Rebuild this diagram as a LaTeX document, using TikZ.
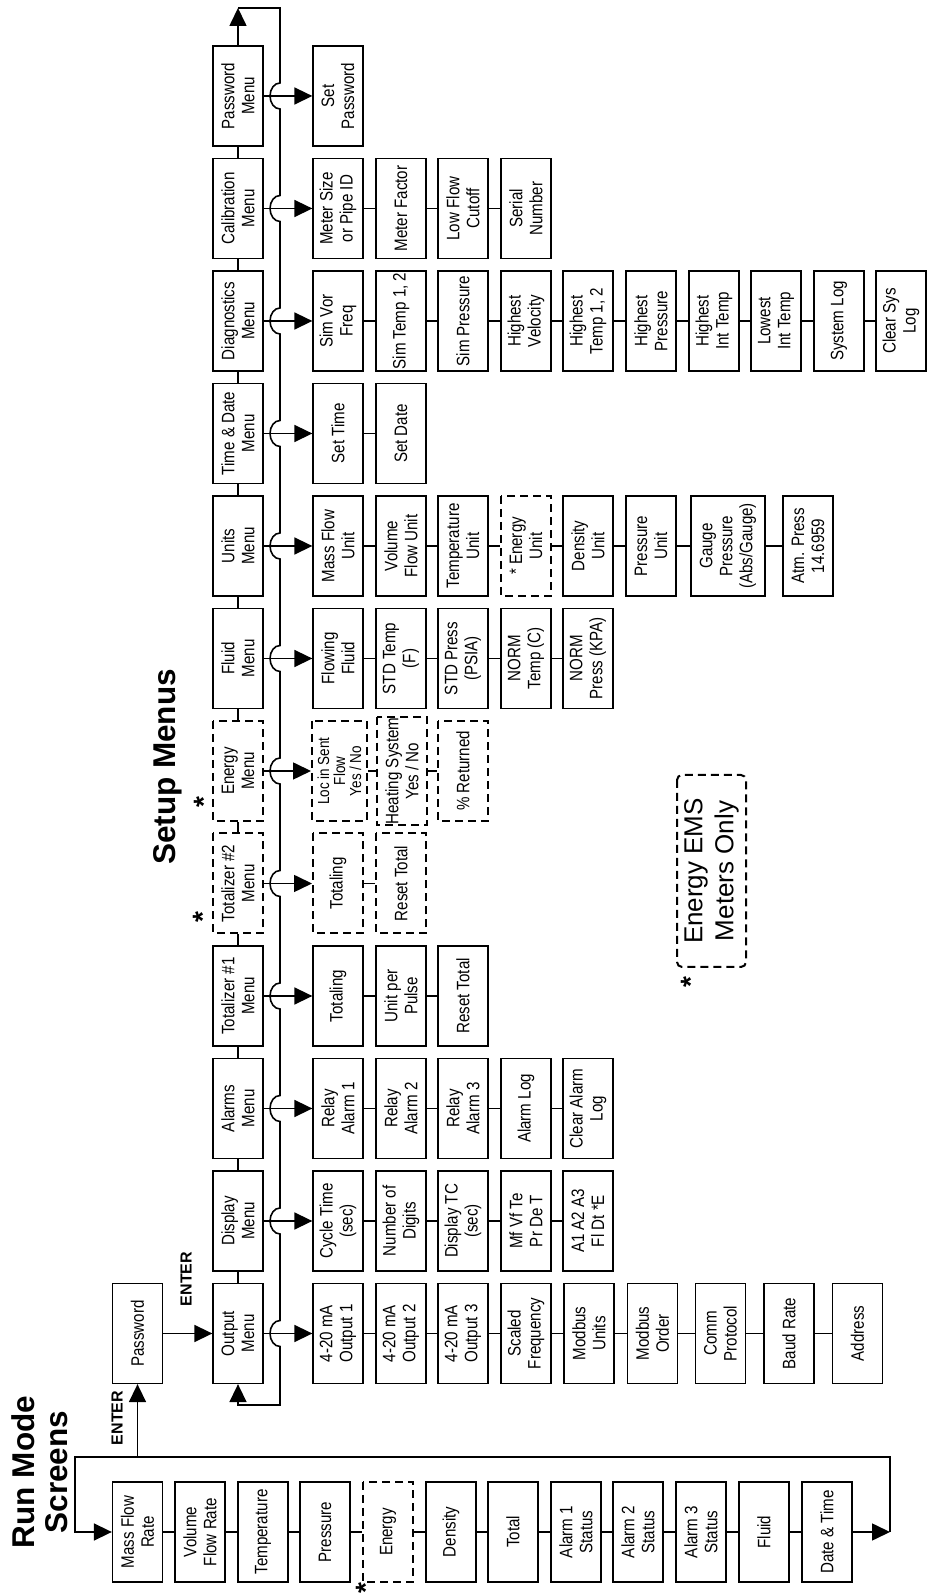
\documentclass[tikz,border=0pt]{standalone}
\usepackage{fontspec}
\setmainfont{Liberation Sans}
\newfontfamily\boxfont{Liberation Sans}[FakeStretch=0.84]
\usetikzlibrary{arrows.meta}
\tikzset{
  menu-box/.style={draw=black, line width=1.3pt, minimum width=100pt, minimum height=50pt,
    inner sep=1pt, align=center, font=\boxfont\fontsize{18}{20}\selectfont},
  option-box/.style={menu-box, line width=2pt, dash pattern=on 8pt off 5pt},
  link/.style={line width=1.3pt},
  flow/.style={line width=1.6pt, -{Triangle[length=18pt, width=17pt]}},
  title-text/.style={font=\bfseries\fontsize{31.5}{33}\selectfont, align=center, inner sep=0pt},
  enter-text/.style={font=\bfseries\fontsize{16}{18}\selectfont, inner sep=0pt},
  asterisk-mark/.style={font=\bfseries\fontsize{28}{28}\selectfont, inner sep=0pt}
}

\begin{document}
\begin{tikzpicture}[x=1pt, y=1pt]
  \useasboundingbox (0,0) rectangle (930,1593);
  \begin{scope}[rotate=90, transform shape]
  % run mode screens
  \node[title-text] (runtitle) at (121,-40) {Run Mode\\Screens};
  \foreach \name/\y/\txt in {run1/-137.5/{Mass Flow\\Rate}, run2/-200/{Volume\\Flow Rate}, run3/-263/{Temperature}, run4/-325/{Pressure},
      run6/-451/{Density}, run7/-513/{Total}, run8/-576/{Alarm 1\\Status}, run9/-638/{Alarm 2\\Status},
      run10/-701/{Alarm 3\\Status}, run11/-764/{Fluid}, run12/-827/{Date \& Time}} {
    \node[menu-box] (\name) at (61,\y) {\txt};
  }
  \node[option-box] (run5) at (61,-388) {Energy};
  \node[asterisk-mark] (runstar) at (5,-366) {*};
  \foreach \k [remember=\k as \prev (initially 1)] in {2,...,12}
    \draw[link] (run\prev) -- (run\k);
  \coordinate (runturn) at (61,-890);
  \coordinate (runcorner) at (136,-890);
  \coordinate (runtop) at (136,-75);
  \coordinate (passtap) at (136,-137.5);
  \draw[flow] (run12) -- (runturn);
  \draw[flow] (runturn) -- (runcorner) -- (runtop) -| (run1);
  \node[menu-box] (pass) at (259.5,-137.5) {Password};
  \draw[flow] (passtap) -- (pass);
  \node[enter-text] (enter1) at (175,-117) {ENTER};

  % setup menus
  \node[title-text] (setuptitle) at (826,-168) {Setup Menus};
  \foreach \name/\x/\txt in {outm/259.5/{Output\\Menu}, dispm/372/{Display\\Menu}, alarmm/484.5/{Alarms\\Menu},
      totam/597/{Totalizer \#1\\Menu}, fluidm/934.5/{Fluid\\Menu}, unitm/1047/{Units\\Menu},
      timem/1159.5/{Time \& Date\\Menu}, diagm/1272/{Diagnostics\\Menu}, calm/1384.5/{Calibration\\Menu},
      passm/1497/{Password\\Menu}} {
    \node[menu-box] (\name) at (\x,-238) {\txt};
  }
  \node[option-box] (totbm) at (709.5,-238) {Totalizer \#2\\Menu};
  \node[option-box] (enrm) at (822,-238) {Energy\\Menu};
  \node[asterisk-mark] (totbstar) at (676,-203) {*};
  \node[asterisk-mark] (enrstar) at (791,-204) {*};
  \foreach \a/\b in {outm/dispm, dispm/alarmm, alarmm/totam, totam/totbm, totbm/enrm, enrm/fluidm,
      fluidm/unitm, unitm/timem, timem/diagm, diagm/calm, calm/passm}
    \draw[link] (\a) -- (\b);
  \draw[flow] (pass) -- (outm);
  \node[enter-text] (enter2) at (314,-186) {ENTER};

  % return line with hops
  \coordinate (busturn) at (1585,-238);
  \coordinate (busfoot) at (188,-280);
  \draw[flow] (passm) -- (busturn);
  \draw[flow] (busturn) -- ++(0,-42)
    \foreach \x in {1497,1384.5,1272,1159.5,1047,934.5,822,709.5,597,484.5,372,259.5} {
      -- (\x+13,-280) arc[start angle=0, end angle=180, x radius=13, y radius=10]
    } -- (busfoot) |- (outm.west);

  % output menu
  \foreach \name/\y/\txt in {out1/-338/{4-20 mA\\Output 1}, out2/-401/{4-20 mA\\Output 2}, out3/-463/{4-20 mA\\Output 3},
      out4/-526/{Scaled\\Frequency}, out5/-589/{Modbus\\Units}, out6/-652.5/{Modbus\\Order},
      out7/-720.5/{Comm\\Protocol}, out8/-789/{Baud Rate}, out9/-857.5/{Address}} {
    \node[menu-box] (\name) at (259.5,\y) {\txt};
  }
  \foreach \k [remember=\k as \prev (initially 1)] in {2,...,9}
    \draw[link] (out\prev) -- (out\k);

  % display menu
  \foreach \name/\y/\txt in {disp1/-338/{Cycle Time\\(sec)}, disp2/-401/{Number of\\Digits}, disp3/-463/{Display TC\\(sec)},
      disp4/-526/{Mf Vf Te\\Pr De T}, disp5/-588/{A1 A2 A3\\Fl Dt *E}} {
    \node[menu-box] (\name) at (372,\y) {\txt};
  }
  \foreach \k [remember=\k as \prev (initially 1)] in {2,...,5}
    \draw[link] (disp\prev) -- (disp\k);

  % alarms menu
  \foreach \name/\y/\txt in {alarm1/-338/{Relay\\Alarm 1}, alarm2/-401/{Relay\\Alarm 2}, alarm3/-463/{Relay\\Alarm 3},
      alarm4/-526/{Alarm Log}, alarm5/-588/{Clear Alarm\\Log}} {
    \node[menu-box] (\name) at (484.5,\y) {\txt};
  }
  \foreach \k [remember=\k as \prev (initially 1)] in {2,...,5}
    \draw[link] (alarm\prev) -- (alarm\k);

  % totalizer 1 and 2
  \foreach \name/\y/\txt in {tota1/-338/{Totaling}, tota2/-401/{Unit per\\Pulse}, tota3/-463/{Reset Total}} {
    \node[menu-box] (\name) at (597,\y) {\txt};
  }
  \draw[link] (tota1) -- (tota2);
  \draw[link] (tota2) -- (tota3);
  \node[option-box] (totb1) at (709.5,-338) {Totaling};
  \node[option-box] (totb2) at (709.5,-401) {Reset Total};
  \draw[link] (totb1) -- (totb2);

  % energy menu
  \node[option-box, minimum height=55pt, font=\boxfont\fontsize{16}{16}\selectfont] (enr1) at (822,-339.5) {Loc in Sent\\Flow\\Yes / No};
  \node[option-box] (enr2) at (822,-402) {Heating System\\Yes / No};
  \node[option-box] (enr3) at (822,-463) {\% Returned};
  \draw[link] (enr1) -- (enr2);
  \draw[link] (enr2) -- (enr3);

  % fluid menu
  \foreach \name/\y/\txt in {fluid1/-338/{Flowing\\Fluid}, fluid2/-401/{STD Temp\\(F)}, fluid3/-463/{STD Press\\(PSIA)},
      fluid4/-526/{NORM\\Temp (C)}, fluid5/-588/{NORM\\Press  (KPA)}} {
    \node[menu-box] (\name) at (934.5,\y) {\txt};
  }
  \foreach \k [remember=\k as \prev (initially 1)] in {2,...,5}
    \draw[link] (fluid\prev) -- (fluid\k);

  % units menu
  \foreach \name/\y/\txt in {unit1/-338/{Mass Flow\\Unit}, unit2/-401/{Volume\\Flow Unit}, unit3/-463/{Temperature\\Unit},
      unit5/-588/{Density\\Unit}, unit6/-651/{Pressure\\Unit}, unit8/-808/{Atm. Press\\14.6959}} {
    \node[menu-box] (\name) at (1047,\y) {\txt};
  }
  \node[option-box] (unit4) at (1047,-526) {* Energy\\Unit};
  \node[menu-box, minimum height=74pt] (unit7) at (1047,-728) {Gauge\\Pressure\\(Abs/Gauge)};
  \foreach \k [remember=\k as \prev (initially 1)] in {2,...,8}
    \draw[link] (unit\prev) -- (unit\k);

  % time and date menu
  \node[menu-box] (time1) at (1159.5,-338) {Set Time};
  \node[menu-box] (time2) at (1159.5,-401) {Set Date};
  \draw[link] (time1) -- (time2);

  % diagnostics menu
  \foreach \name/\y/\txt in {diag1/-338/{Sim Vor\\Freq}, diag2/-401/{Sim Temp 1, 2}, diag3/-463/{Sim Pressure},
      diag4/-526/{Highest\\Velocity}, diag5/-588/{Highest\\Temp 1, 2}, diag6/-651/{Highest\\Pressure},
      diag7/-714/{Highest\\Int Temp}, diag8/-776/{Lowest\\Int Temp}, diag9/-839/{System Log},
      diag10/-901/{Clear Sys\\Log}} {
    \node[menu-box] (\name) at (1272,\y) {\txt};
  }
  \foreach \k [remember=\k as \prev (initially 1)] in {2,...,10}
    \draw[link] (diag\prev) -- (diag\k);

  % calibration and password menus
  \foreach \name/\y/\txt in {cal1/-338/{Meter Size\\or Pipe ID}, cal2/-401/{Meter Factor}, cal3/-463/{Low Flow\\Cutoff},
      cal4/-526/{Serial\\Number}} {
    \node[menu-box] (\name) at (1384.5,\y) {\txt};
  }
  \foreach \k [remember=\k as \prev (initially 1)] in {2,...,4}
    \draw[link] (cal\prev) -- (cal\k);
  \node[menu-box] (pass1) at (1497,-338) {Set\\Password};

  % menu to first screen
  \foreach \a/\b in {outm/out1, dispm/disp1, alarmm/alarm1, totam/tota1, totbm/totb1, enrm/enr1,
      fluidm/fluid1, unitm/unit1, timem/time1, diagm/diag1, calm/cal1, passm/pass1}
    \draw[flow] (\a) -- (\b);

  % legend
  \node[draw=black, line width=2pt, dash pattern=on 8pt off 5pt, rounded corners=5pt,
    minimum width=192pt, minimum height=69pt, align=center,
    font=\fontsize{26}{31}\selectfont] (legend) at (722,-711.5) {Energy EMS\\Meters Only};
  \node[asterisk-mark] (legendstar) at (611,-691) {*};
  \end{scope}
\end{tikzpicture}
\end{document}
